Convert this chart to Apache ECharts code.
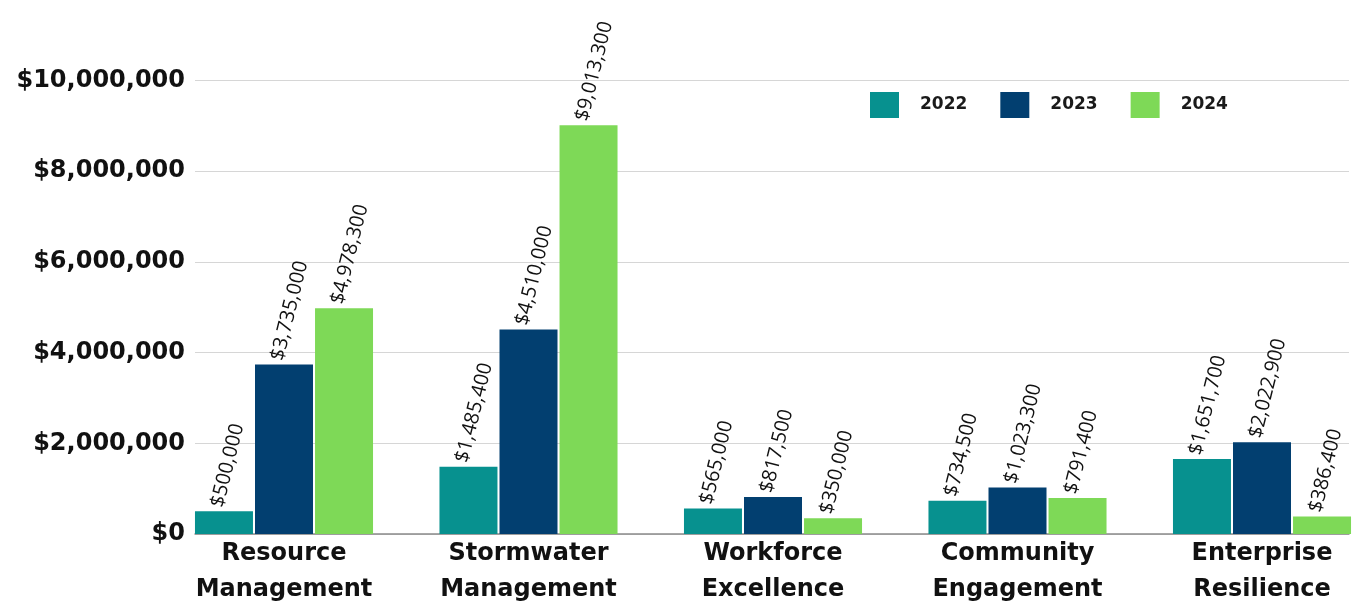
<!DOCTYPE html>
<html>
<head>
<meta charset="utf-8">
<script src="https://cdn.jsdelivr.net/npm/echarts@6/dist/echarts.min.js"></script>
<style>
html,body{margin:0;padding:0;background:#fff;}
#chart{width:1353px;height:603px;}
</style>
</head>
<body>
<div id="chart"></div>
<script>
const categories = ['Resource\nManagement', 'Stormwater\nManagement', 'Workforce\nExcellence', 'Community\nEngagement', 'Enterprise\nResilience'];
const years = ['2022', '2023', '2024'];
const values2022 = [500000, 1485400, 565000, 734500, 1651700];
const values2023 = [3735000, 4510000, 817500, 1023300, 2022900];
const values2024 = [4978300, 9013300, 350000, 791400, 386400];
const yTicks = [0, 2000000, 4000000, 6000000, 8000000, 10000000];
const colors = ['#07918F', '#023F70', '#7ED957'];

const fmt = v => '$' + Math.round(v).toLocaleString('en-US');
const chart = echarts.init(document.getElementById('chart'));
const seriesData = [values2022, values2023, values2024];

const labelStyle = {
  show: true,
  position: 'top',
  distance: 6,
  rotate: 76,
  offset: [-3, -6],
  align: 'left',
  verticalAlign: 'middle',
  fontFamily: 'Open Sans',
  fontSize: 20,
  color: '#111',
  formatter: p => fmt(p.value)
};

chart.setOption({
  animation: false,
  color: colors,
  legend: {
    data: years,
    left: 865,
    top: 87,
    itemWidth: 29,
    itemHeight: 26,
    itemGap: 33,
    icon: 'rect',
    textStyle: { fontFamily: 'DejaVu Sans', fontWeight: 'bold', fontSize: 17, color: '#1a1a1a', padding: [0, 0, 0, 16] }
  },
  grid: [
    { left: 161.75, width: 1222.5, top: 80.5, bottom: 69, outerBoundsMode: 'none', containLabel: false },
    { left: 195, right: 4, top: 80.5, bottom: 69, outerBoundsMode: 'none', containLabel: false }
  ],
  xAxis: [
    {
      type: 'category', gridIndex: 0, data: categories,
      axisLine: { show: false }, axisTick: { show: false },
      axisLabel: { margin: 2, lineHeight: 36, fontFamily: 'DejaVu Sans', fontWeight: 'bold', fontSize: 24, color: '#111', interval: 0 }
    },
    {
      type: 'category', gridIndex: 1, data: categories,
      axisLine: { show: true, lineStyle: { color: '#8a8a8a', width: 1.5 } },
      axisTick: { show: false }, axisLabel: { show: false }
    }
  ],
  yAxis: [
    {
      type: 'value', gridIndex: 0, min: 0, max: 10000000, interval: 2000000,
      axisLabel: { show: false }, splitLine: { show: false }, axisLine: { show: false }, axisTick: { show: false }
    },
    {
      type: 'value', gridIndex: 1, min: yTicks[0], max: yTicks[yTicks.length - 1], interval: yTicks[1] - yTicks[0],
      axisLine: { show: false }, axisTick: { show: false },
      splitLine: { lineStyle: { color: '#d6d6d6', width: 1.2 } },
      axisLabel: { margin: 10, fontFamily: 'DejaVu Sans', fontWeight: 'bold', fontSize: 24, color: '#111', formatter: v => fmt(v) }
    }
  ],
  series: years.map((y, i) => ({
    name: y,
    type: 'bar',
    xAxisIndex: 0,
    yAxisIndex: 0,
    data: seriesData[i],
    barWidth: 58,
    barGap: '3.5%',
    itemStyle: { color: colors[i] },
    label: labelStyle
  }))
});
</script>
</body>
</html>
